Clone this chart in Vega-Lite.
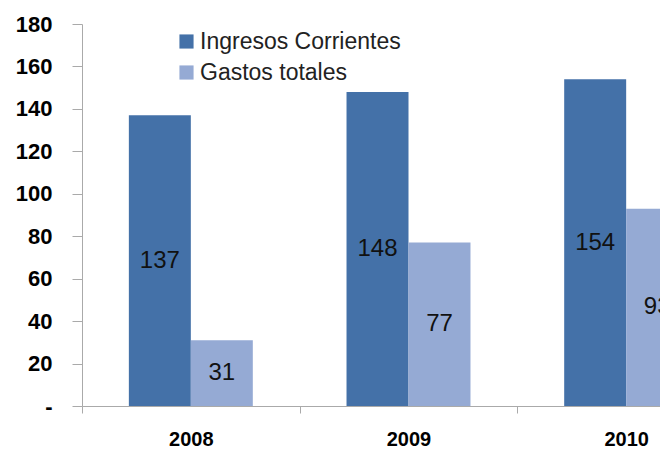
{
  "$schema": "https://vega.github.io/schema/vega-lite/v6.json",
  "autosize": {"type": "none"},
  "padding": {"left": 82, "top": 24, "right": 0, "bottom": 44},
  "width": 578,
  "height": 382,
  "background": "white",
  "config": {"view": {"stroke": null}, "font": "Liberation Sans"},
  "data": {"values": [
    {"year": "2008", "serie": "Ingresos Corrientes", "value": 137},
    {"year": "2008", "serie": "Gastos totales", "value": 31},
    {"year": "2009", "serie": "Ingresos Corrientes", "value": 148},
    {"year": "2009", "serie": "Gastos totales", "value": 77},
    {"year": "2010", "serie": "Ingresos Corrientes", "value": 154},
    {"year": "2010", "serie": "Gastos totales", "value": 93}
  ]},
  "encoding": {
    "x": {"field": "year", "type": "nominal",
      "scale": {"range": [0, 653], "paddingInner": 0, "paddingOuter": 0},
      "axis": {"title": null, "labelAngle": 0, "labelFontSize": 20, "labelFontWeight": "bold", "labelColor": "#000",
        "domainColor": "#aaa", "tickColor": "#aaa", "tickBand": "extent", "tickSize": 7, "labelPadding": 16}},
    "xOffset": {"field": "serie", "type": "nominal", "sort": ["Ingresos Corrientes", "Gastos totales"], "scale": {"paddingInner": 0, "paddingOuter": 0.756}}
  },
  "layer": [
    {
      "mark": {"type": "bar", "clip": false},
      "encoding": {
        "y": {"field": "value", "type": "quantitative",
          "scale": {"domain": [0, 180], "nice": false},
          "axis": {"title": null, "values": [0, 20, 40, 60, 80, 100, 120, 140, 160, 180], "grid": false,
            "labelExpr": "datum.value == 0 ? '-' : datum.label",
            "labelFontSize": 22, "labelFontWeight": "bold", "labelColor": "#000",
            "domainColor": "#aaa", "tickColor": "#aaa", "tickSize": 10, "labelPadding": 20}},
        "color": {"field": "serie", "type": "nominal",
          "scale": {"domain": ["Ingresos Corrientes", "Gastos totales"], "range": ["#4471A8", "#95AAD4"]},
          "legend": {"title": null, "orient": "none", "legendX": 93, "legendY": 6,
            "symbolType": "square", "symbolSize": 200, "symbolStrokeWidth": 0, "labelFontSize": 23, "labelColor": "#222",
            "rowPadding": 7, "labelOffset": 2, "labelLimit": 0}}
      }
    },
    {
      "transform": [{"calculate": "datum.value / 2", "as": "mid"}],
      "mark": {"type": "text", "fontSize": 24, "color": "#111", "baseline": "middle"},
      "encoding": {
        "y": {"field": "mid", "type": "quantitative"},
        "text": {"field": "value", "type": "quantitative"}
      }
    }
  ]
}
